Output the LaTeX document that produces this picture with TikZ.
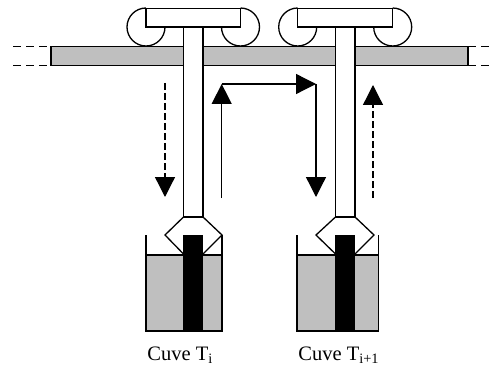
\documentclass[tikz,border=0pt]{standalone}
\usepackage{fontspec}
\setmainfont{Liberation Serif}
\usetikzlibrary{arrows.meta}
\tikzset{
	bigarrow/.style={-{Triangle[length=20pt,width=20pt]}},
	railend/.style={dash pattern=on 8pt off 5pt},
	backarrow/.style={bigarrow,dash pattern=on 7pt off 3pt},
	bath/.style={fill=black!25,draw=none},
	tanklabel/.style={anchor=base west,inner sep=0pt,font=\fontsize{20.5}{23}\selectfont},
}
\begin{document}
\begin{tikzpicture}[x=1pt,y=1pt,line width=1.3pt,line join=miter]
	\useasboundingbox (0,0) rectangle (496,365);
	% rail
	\draw[fill=black!25] (51,318.5) rectangle (468,299.5);
	\draw[railend] (13,318.5) -- (51,318.5);
	\draw[railend] (13,299.5) -- (51,299.5);
	\draw[railend] (468,318.5) -- (490,318.5);
	\draw[railend] (468,299.5) -- (490,299.5);
	% first carriage
	\draw (146,357) arc[start angle=90,end angle=360,radius=19];
	\draw (240.5,357) arc[start angle=90,end angle=-180,radius=19];
	\draw[fill=white] (146,356.5) rectangle (240.5,338);
	\draw[fill=white] (183.5,338) rectangle (203,148);
	% second carriage
	\draw (297.7,357) arc[start angle=90,end angle=360,radius=19];
	\draw (392.7,357) arc[start angle=90,end angle=-180,radius=19];
	\draw[fill=white] (297.7,356.5) rectangle (392.7,338);
	\draw[fill=white] (335.5,338) rectangle (355,148);
	% first tank
	\fill[bath] (146,110) rectangle (222,34);
	\draw (146,130) -- (146,34) -- (222,34) -- (222,130);
	\draw (146,110) -- (222,110);
	\draw (183.5,148) -- (165,130) -- (183.5,111);
	\draw (203,148) -- (222,130) -- (203,111);
	\fill[black] (183,130) rectangle (203,34);
	% second tank
	\fill[bath] (297,110) rectangle (378.5,34);
	\draw (297,130) -- (297,34) -- (378.5,34) -- (378.5,130);
	\draw (297,110) -- (378.5,110);
	\draw (335.5,148) -- (316,130) -- (335.5,111);
	\draw (355,148) -- (374,130) -- (355,111);
	\fill[black] (334.5,130) rectangle (355,34);
	% moves
	\coordinate (downfrom) at (165,282);
	\coordinate (downto) at (165,168);
	\coordinate (upfrom) at (221.7,167);
	\coordinate (corner) at (221.7,281);
	\coordinate (over) at (316,281);
	\coordinate (lower) at (316,168);
	\coordinate (backfrom) at (373,167);
	\coordinate (backto) at (373,280);
	\draw[backarrow] (downfrom) -- (downto);
	\draw[bigarrow] (upfrom) -- (corner);
	\draw[bigarrow] (corner) -- (over);
	\draw[bigarrow] (over) -- (lower);
	\draw[backarrow] (backfrom) -- (backto);
	% labels
	\node[tanklabel] (cuvei) at (146.7,5) {Cuve T\textsubscript{i}};
	\node[tanklabel] (cuvej) at (297.7,5) {Cuve T\textsubscript{i+1}};
\end{tikzpicture}
\end{document}
